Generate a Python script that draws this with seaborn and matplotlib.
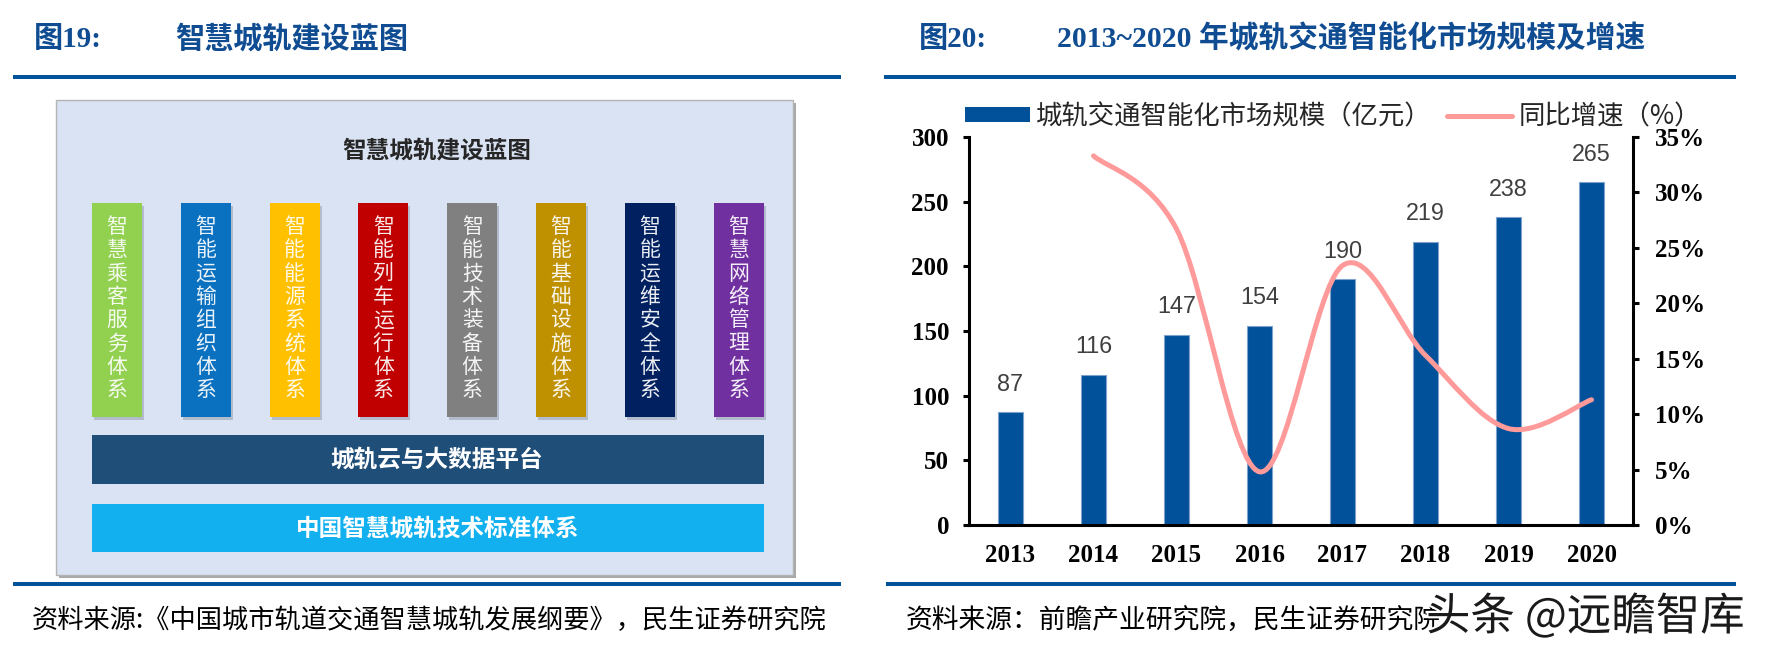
import numpy as np
import pandas as pd
import matplotlib
matplotlib.use("Agg")
import matplotlib.pyplot as plt
from matplotlib.patches import Rectangle, PathPatch, Patch
from matplotlib.path import Path
from matplotlib.lines import Line2D
import matplotlib.patheffects as pe
import seaborn as sns

# ---------------- data ----------------
years = ["2013", "2014", "2015", "2016", "2017", "2018", "2019", "2020"]
market_size = [87, 116, 147, 154, 190, 219, 238, 265]
growth_years = ["2014", "2015", "2016", "2017", "2018", "2019", "2020"]
growth_pct = [33.3, 26.7, 4.8, 23.4, 15.3, 8.7, 11.3]
left_ticks = [0, 50, 100, 150, 200, 250, 300]
right_ticks = [0, 5, 10, 15, 20, 25, 30, 35]
legend_labels = ["城轨交通智能化市场规模（亿元）", "同比增速（%）"]

subsystems = ["智慧乘客服务体系", "智能运输组织体系", "智能能源系统体系", "智能列车运行体系",
              "智能技术装备体系", "智能基础设施体系", "智能运维安全体系", "智慧网络管理体系"]
sub_colors = ["#92D050", "#0A70C0", "#FFC000", "#C00000",
              "#808080", "#BF9000", "#002060", "#7030A0"]
diagram_title = "智慧城轨建设蓝图"
platform_label = "城轨云与大数据平台"
standard_label = "中国智慧城轨技术标准体系"

title_left = ["图19:", "智慧城轨建设蓝图"]
title_right = ["图20:", "2013~2020 年城轨交通智能化市场规模及增速"]
source_left = "资料来源:《中国城市轨道交通智慧城轨发展纲要》，民生证券研究院"
source_right = "资料来源：前瞻产业研究院，民生证券研究院"
watermark = "头条 @远瞻智库"

# ---------------- style ----------------
sns.set_style("white")
CJK = ["Noto Sans CJK SC", "DejaVu Sans"]
SERIF = ["Liberation Serif", "Noto Sans CJK SC", "DejaVu Sans"]
plt.rcParams["font.family"] = CJK

BAR_C = "#00519A"
LINE_C = "#FF9A9A"
HEAD_C = "#00529B"
TITLE_C = "#0F4C92"

W, H = 1769, 659
fig = plt.figure(figsize=(W / 100, H / 100), dpi=100)
fig.patch.set_facecolor("white")

# overlay in pixel coordinates for headings / diagram
ov = fig.add_axes([0, 0, 1, 1], zorder=0)
ov.set_xlim(0, W)
ov.set_ylim(H, 0)
ov.axis("off")

# headings
ov.text(34, 39, title_left[0], fontsize=21, weight="bold", color=TITLE_C,
        family=SERIF, ha="left", va="center")
ov.text(175, 39, title_left[1], fontsize=21, weight="bold", color=TITLE_C,
        family=SERIF, ha="left", va="center")
ov.text(919, 39, title_right[0], fontsize=21, weight="bold", color=TITLE_C,
        family=SERIF, ha="left", va="center")
ov.text(1057, 39, title_right[1], fontsize=21.4, weight="bold", color=TITLE_C,
        family=SERIF, ha="left", va="center")
for (x0, y0, w, h) in [(13, 75, 828, 4), (884, 75, 852, 4),
                       (13, 582, 828, 4), (886, 582, 850, 4)]:
    ov.add_patch(Rectangle((x0, y0), w, h, facecolor=HEAD_C, edgecolor="none"))

ov.text(32, 621, source_left, fontsize=18.9, color="black", ha="left", va="center")
ov.text(906, 621, source_right, fontsize=19.3, color="black", ha="left", va="center")
ov.text(1426, 617, watermark, fontsize=32, color="#1a1a1a", ha="left", va="center",
        path_effects=[pe.withStroke(linewidth=3, foreground="white")], zorder=10)

# ---------------- diagram ----------------
ov.add_patch(Rectangle((59, 103), 737, 475, facecolor="#A8A8A8", edgecolor="none"))
ov.add_patch(Rectangle((56, 100), 737, 475, facecolor="#DAE3F3",
                       edgecolor="#B4B4B4", linewidth=1))
ov.text(437, 151, diagram_title, fontsize=17, weight="bold", color="#262626",
        ha="center", va="center")
bx0, bstep, bw, by0, bh = 92, 88.8, 50, 203, 214
for i, (name, col) in enumerate(zip(subsystems, sub_colors)):
    x = bx0 + i * bstep
    ov.add_patch(Rectangle((x + 2, by0 + 3), bw, bh, facecolor="#9AA3B3",
                           alpha=0.6, edgecolor="none"))
    ov.add_patch(Rectangle((x, by0), bw, bh, facecolor=col, edgecolor="none"))
    for j, ch in enumerate(name):
        ov.text(x + bw / 2, 227 + j * 23.3, ch, fontsize=15, color="white",
                alpha=0.92, ha="center", va="center")
ov.add_patch(Rectangle((92, 435), 672, 49, facecolor="#1F4E79", edgecolor="none"))
ov.text(437, 460, platform_label, fontsize=17, weight="bold", color="white",
        ha="center", va="center")
ov.add_patch(Rectangle((92, 504), 672, 48, facecolor="#13B0EF", edgecolor="none"))
ov.text(438, 529, standard_label, fontsize=17, weight="bold", color="white",
        ha="center", va="center")

# ---------------- chart ----------------
ax = fig.add_axes([969 / W, (H - 525) / H, 664 / W, 388 / H], zorder=2)
df = pd.DataFrame({"year": years, "size": market_size})
sns.barplot(data=df, x="year", y="size", ax=ax, color=BAR_C, saturation=1,
            width=0.31, edgecolor="#7FA3CC", linewidth=0.8)
ax.set_xlabel("")
ax.set_ylabel("")
ax.set_xlim(-0.5, len(years) - 0.5)
ax.set_ylim(0, 300)
ax.set_yticks(left_ticks, [str(v) for v in left_ticks], fontsize=18,
              fontweight="bold", fontfamily=SERIF)
ax.set_xticks(range(len(years)), years, fontsize=18, fontweight="bold",
              fontfamily=SERIF)
ax.set_xticks(np.arange(-0.5, len(years)), minor=True)
ax.tick_params(axis="x", which="major", length=0, pad=14, colors="black")
ax.tick_params(axis="x", which="minor", length=6, width=2.2, direction="out")
ax.tick_params(axis="y", length=4.5, width=2.2, direction="out", pad=9.9,
               colors="black")
for s in ["top", "right"]:
    ax.spines[s].set_visible(False)
for s in ["left", "bottom"]:
    ax.spines[s].set_linewidth(2.2)
    ax.spines[s].set_color("black")
ax.bar_label(ax.containers[0], labels=[str(v) for v in market_size], padding=12,
             fontsize=16.8, color="#404040", fontfamily=["Liberation Sans", "DejaVu Sans"])

ax2 = ax.twinx()
ax2.set_ylim(0, 35)
ax2.set_yticks(right_ticks, [f"{v}%" for v in right_ticks], fontsize=18,
               fontweight="bold", fontfamily=SERIF)
ax2.tick_params(axis="y", length=4.5, width=2.2, direction="out", pad=11.3,
                colors="black")
for s in ["top", "left", "bottom"]:
    ax2.spines[s].set_visible(False)
ax2.spines["right"].set_linewidth(2.2)
ax2.spines["right"].set_color("black")

# smoothed growth line (Bezier through the data points, Excel-like)
gx = np.array([years.index(y) for y in growth_years], dtype=float)
gy = np.array(growth_pct, dtype=float)
pts = np.column_stack([gx, gy])
n = len(pts)
verts = [pts[0]]
codes = [Path.MOVETO]
for i in range(n - 1):
    p0 = pts[i - 1] if i > 0 else pts[i]
    p1 = pts[i]
    p2 = pts[i + 1]
    p3 = pts[i + 2] if i + 2 < n else pts[i + 1]
    verts += [p1 + (p2 - p0) / 6, p2 - (p3 - p1) / 6, p2]
    codes += [Path.CURVE4] * 3
ax2.add_patch(PathPatch(Path(verts, codes), fill=False, edgecolor=LINE_C,
                        linewidth=3.6, capstyle="round", joinstyle="round"))

handles = [Patch(facecolor=BAR_C, edgecolor="none"),
           Line2D([], [], color=LINE_C, linewidth=3.6, solid_capstyle="round")]
ax2.legend(handles, legend_labels, loc="upper left",
           bbox_to_anchor=(965 / W, 1 - 103 / H), bbox_transform=fig.transFigure,
           ncol=2, frameon=False, prop={"family": CJK, "size": 19},
           handlelength=2.45, handleheight=0.46, handletextpad=0.24,
           columnspacing=0.6, borderpad=0, borderaxespad=0)

fig.savefig("out.png", dpi=100)
